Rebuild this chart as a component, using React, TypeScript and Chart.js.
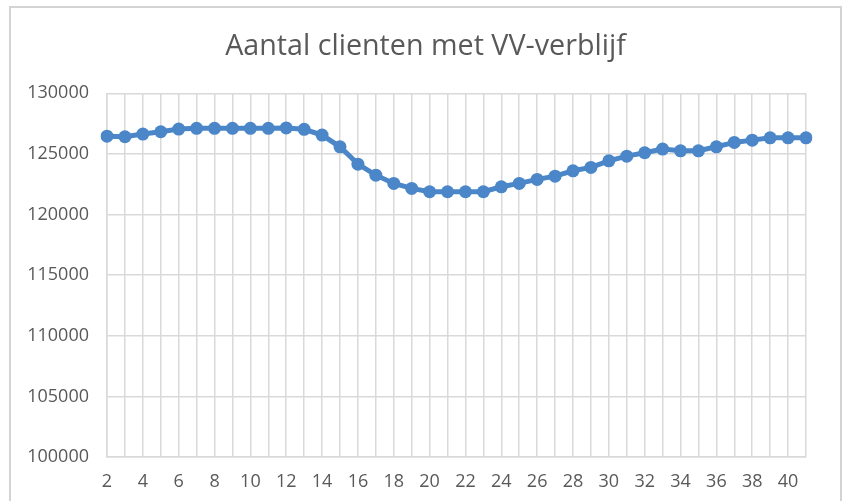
import React, { useEffect, useRef } from "react";
import { Chart, registerables } from "chart.js";

Chart.register(...registerables);

const categories = [
  "2", "3", "4", "5", "6", "7", "8", "9", "10", "11",
  "12", "13", "14", "15", "16", "17", "18", "19", "20", "21",
  "22", "23", "24", "25", "26", "27", "28", "29", "30", "31",
  "32", "33", "34", "35", "36", "37", "38", "39", "40", "41",
];

const clienten = [
  126470, 126420, 126640, 126830, 127050, 127110, 127110, 127110, 127110, 127110,
  127150, 127030, 126560, 125590, 124160, 123250, 122570, 122160, 121880, 121880,
  121880, 121880, 122290, 122570, 122900, 123170, 123610, 123890, 124430, 124820,
  125100, 125400, 125260, 125260, 125590, 125950, 126140, 126330, 126330, 126330,
];

const yTicks = { min: 100000, max: 130000, step: 5000 };

const titleText = "Aantal clienten met VV-verblijf";

const frame = {
  id: "frame",
  beforeDraw(chart: any) {
    const ctx = chart.ctx;
    ctx.save();
    ctx.strokeStyle = "#d4d4d4";
    ctx.lineWidth = 2;
    ctx.strokeRect(10, 7, 831, 520);
    ctx.restore();
  },
};

export default function App() {
  const ref = useRef<HTMLCanvasElement | null>(null);

  useEffect(() => {
    document.body.style.margin = "0";
    document.body.style.overflow = "hidden";
    if (!ref.current) return;
    const chart = new Chart(ref.current, {
      type: "line",
      data: {
        labels: categories,
        datasets: [
          {
            data: clienten,
            borderColor: "#4a86c8",
            backgroundColor: "#4a86c8",
            borderWidth: 5,
            pointRadius: 6.5,
            pointHoverRadius: 6.5,
            pointBorderWidth: 0,
            tension: 0,
            fill: false,
            yAxisID: "y",
          },
        ],
      },
      options: {
        animation: false,
        responsive: true,
        maintainAspectRatio: false,
        layout: { padding: { left: 7, right: 0, top: 0, bottom: 0 } },
        plugins: {
          legend: { display: false },
          tooltip: { enabled: false },
          title: {
            display: true,
            text: titleText,
            color: "#595959",
            font: { family: "'Open Sans'", size: 28.7, weight: "normal", lineHeight: 1.2 },
            padding: { top: 29.5, bottom: 29.4 },
          },
        },
        scales: {
          x: {
            type: "category",
            offset: false,
            grid: { color: "#d9d9d9", lineWidth: 1.5, drawTicks: false },
            border: { color: "#d9d9d9", width: 1.5 },
            ticks: {
              autoSkip: false,
              maxRotation: 0,
              padding: 14,
              color: "#595959",
              font: { family: "'Open Sans'", size: 18 },
              callback: (_v: any, i: number) => (Number(categories[i]) % 2 === 0 ? categories[i] : ""),
            },
            afterFit: (s: any) => {
              s.height = 44;
            },
          },
          y: {
            min: yTicks.min,
            max: yTicks.max,
            grid: { color: "#d9d9d9", lineWidth: 1.5, drawTicks: false },
            border: { color: "#d9d9d9", width: 1.5 },
            ticks: {
              stepSize: yTicks.step,
              padding: 18,
              color: "#595959",
              font: { family: "'Open Sans'", size: 18 },
              callback: (v: any) => String(v),
            },
            afterFit: (s: any) => {
              s.width = 100;
            },
          },
          yRight: {
            position: "right",
            display: true,
            grid: { display: false, drawTicks: false },
            border: { display: false },
            ticks: { display: false },
            afterFit: (s: any) => {
              s.width = 38;
            },
          },
        },
      },
      plugins: [frame],
    });
    return () => chart.destroy();
  }, []);

  return (
    <div style={{ position: "absolute", left: 0, top: 0, width: 844, height: 501, background: "#fff" }}>
      <canvas ref={ref} style={{ width: "100%", height: "100%" }} />
    </div>
  );
}
